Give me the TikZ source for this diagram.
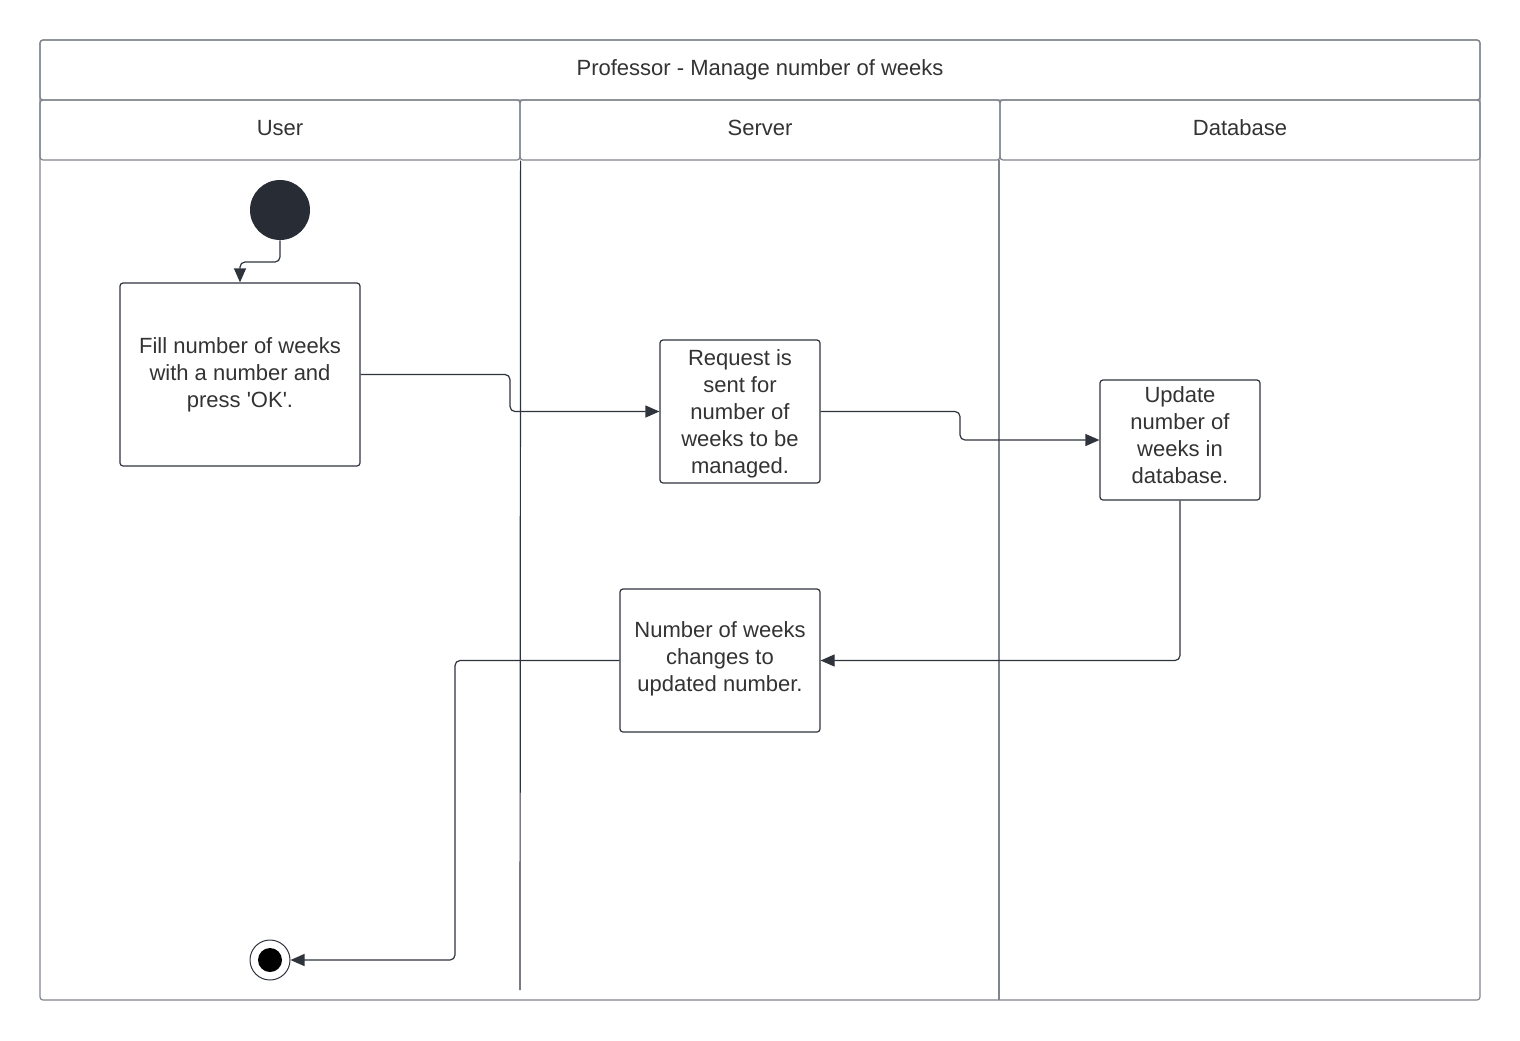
\documentclass[tikz,border=0pt]{standalone}
\usepackage{fontspec}
\setmainfont{Liberation Sans}
\usetikzlibrary{arrows.meta}
\definecolor{frameline}{HTML}{80858D}
\definecolor{ink}{HTML}{2F343C}
\definecolor{txt}{HTML}{333333}
\definecolor{dot}{HTML}{282C34}
\tikzset{
  px/.style={x=0.5pt,y=-0.5pt},
  hdr/.style={draw=frameline,line width=0.6pt,rounded corners=1.5pt,inner sep=0pt,
    font=\fontsize{11}{13.5}\selectfont,text=txt},
  lanehdr/.style={hdr,minimum width=240pt,minimum height=30pt,text height=8pt,text depth=3pt},
  act/.style={draw=ink,line width=0.6pt,rounded corners=1.5pt,inner sep=0pt,align=center,
    font=\fontsize{11}{13.5}\selectfont,text=txt},
  flow/.style={draw=ink,line width=0.6pt,rounded corners=2.5pt,
    -{Triangle[length=7pt,width=6pt]}},
}
\begin{document}
\begin{tikzpicture}[px]
\useasboundingbox[fill=white] (0,0) rectangle (1520,1040);
% pool frame
\draw[frameline,line width=0.6pt,rounded corners=1.5pt] (40,40) rectangle (1480,1000);
\node[hdr,minimum width=720pt,minimum height=30pt] (title) at (760,70) {Professor - Manage number of weeks};
\node[lanehdr] (laneU) at (280,130) {User};
\node[lanehdr] (laneS) at (760,130) {Server};
\node[lanehdr] (laneD) at (1240,130) {Database};
% lane separators
\draw[ink,line width=0.6pt] (laneU.south east) -- (520,990);
\draw[frameline,line width=0.6pt] (999,160) -- (999,1000);
% states and activities
\node[circle,fill=dot,minimum size=30pt,inner sep=0pt] (init) at (280,210) {};
\node[act,minimum width=120pt,minimum height=91.5pt] (A) at (240,374.5) {Fill number of weeks\\with a number and\\press \textquotesingle OK\textquotesingle.};
\node[act,minimum width=80pt,minimum height=71.5pt,text depth=0pt] (B) at (740,411.5) {Request is\\sent for\\number of\\weeks to be\\managed.};
\node[act,minimum width=80pt,minimum height=60pt,text depth=5pt] (C) at (1180,440) {Update\\number of\\weeks in\\database.};
\node[act,minimum width=100pt,minimum height=71.5pt,text depth=4pt] (D) at (720,660.5) {Number of weeks\\changes to\\updated number.};
\node[circle,draw=ink,line width=0.5pt,fill=white,minimum size=20pt,inner sep=0pt] (fin) at (270,960) {};
\node[circle,fill=black,minimum size=12pt,inner sep=0pt] (finc) at (fin.center) {};
% control flow
\draw[flow] (init.south) -- (280,262) -| (A.north);
\draw[flow] (A.east) -- (510,374.5) |- (B.west);
\draw[flow] (B.east) -- (960,411.5) |- (C.west);
\draw[flow] (C.south) |- (D.east);
\draw[flow] (D.west) -- (455,660.5) |- (fin.east);
\end{tikzpicture}
\end{document}
